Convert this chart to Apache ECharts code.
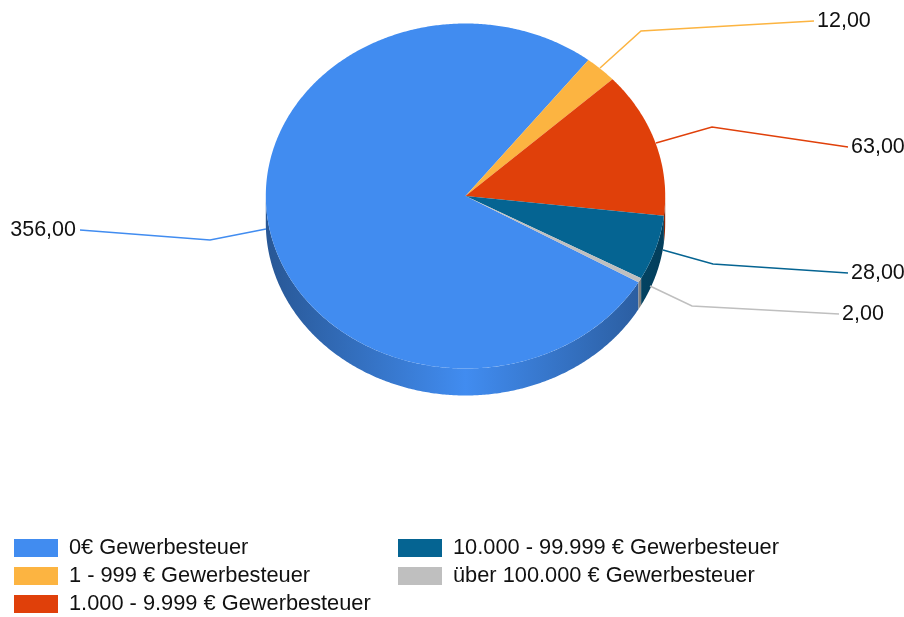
<!DOCTYPE html>
<html>
<head>
<meta charset="utf-8">
<title>Gewerbesteuer</title>
<style>
  html, body { margin: 0; padding: 0; background: #fff; }
  #chart { width: 904px; height: 617px; }
</style>
<script src="https://cdn.jsdelivr.net/npm/echarts@6/dist/echarts.min.js"></script>
</head>
<body>
<div id="chart"></div>
<script>
const categories = ['0€ Gewerbesteuer', '1 - 999 € Gewerbesteuer', '1.000 - 9.999 € Gewerbesteuer', '10.000 - 99.999 € Gewerbesteuer', 'über 100.000 € Gewerbesteuer']
const values = [356, 12, 63, 28, 2]
const colors = ['#418cf0', '#fcb441', '#e0400a', '#056492', '#bfbfbf']

// leader line layout: elbow, end of line, label side
const leaders = [
  { start: [266, 229], elbow: [210, 240], end: [80, 230], align: 'right' },
  { start: [600, 68], elbow: [641, 31], end: [814, 21], align: 'left' },
  { start: [656, 143], elbow: [712, 127], end: [848, 147], align: 'left' },
  { start: [663, 250], elbow: [713, 264], end: [848, 273], align: 'left' },
  { start: [650, 286], elbow: [692, 306], end: [839, 314], align: 'left' }
]

const pie = { cx: 465.5, cy: 196, rx: 199.7, ry: 172.5, depth: 27, startDeg: 120 }
const total = values.reduce((a, b) => a + b, 0)
const fontFamily = '"Liberation Sans", Arial, sans-serif'

// angle in degrees clockwise from 12 o'clock
const edgePoint = (deg, dy = 0) => {
  const a = deg * Math.PI / 180
  return [pie.cx + pie.rx * Math.sin(a), pie.cy - pie.ry * Math.cos(a) + dy]
}

const arcPoints = (from, to, dy = 0) => {
  const pts = []
  const steps = Math.max(2, Math.ceil(Math.abs(to - from) * 2))
  for (let i = 0; i <= steps; i++) pts.push(edgePoint(from + (to - from) * i / steps, dy))
  return pts
}

const sliceRange = index => {
  const before = values.slice(0, index).reduce((a, b) => a + b, 0)
  const from = pie.startDeg + before / total * 360
  return [from, from + values[index] / total * 360]
}

const shade = (hex, factor) => {
  const n = parseInt(hex.slice(1), 16)
  const rgb = [n >> 16, (n >> 8) & 255, n & 255].map(c => Math.round(c * factor))
  return `rgb(${rgb.join(',')})`
}

const wallGradient = color => {
  const dark = shade(color, 0.62)
  return new echarts.graphic.LinearGradient(pie.cx - pie.rx, 0, pie.cx + pie.rx, 0, [
    { offset: 0, color: dark },
    { offset: 0.5, color: color },
    { offset: 1, color: dark }
  ], true)
}

const renderSlice = index => (params, api) => {
  const [from, to] = sliceRange(index)
  const color = colors[index]
  const children = []

  // side wall only where the slice faces the viewer (90..270 clockwise from top)
  ;[0, 360].forEach(turn => {
    const wallFrom = Math.max(from - turn, 90)
    const wallTo = Math.min(to - turn, 270)
    if (wallTo <= wallFrom) return
    const top = arcPoints(wallFrom, wallTo)
    const bottom = arcPoints(wallTo, wallFrom, pie.depth)
    children.push({
      type: 'polygon',
      z2: 1,
      shape: { points: top.concat(bottom) },
      style: { fill: wallGradient(color) }
    })
  })

  children.push({
    type: 'polygon',
    z2: 5,
    shape: { points: [[pie.cx, pie.cy]].concat(arcPoints(from, to)) },
    style: { fill: color }
  })

  const leader = leaders[index]
  children.push({
    type: 'polyline',
    z2: 3,
    shape: { points: [leader.start, leader.elbow, leader.end] },
    style: { stroke: color, lineWidth: 1.5, fill: null }
  })
  children.push({
    type: 'text',
    z2: 6,
    style: {
      x: leader.end[0] + (leader.align === 'right' ? -4 : 3),
      y: leader.end[1],
      text: values[index].toFixed(2).replace('.', ','),
      fill: '#111',
      font: '21.5px ' + fontFamily,
      align: leader.align,
      verticalAlign: 'middle'
    }
  })
  return { type: 'group', children }
}

const legendBase = {
  orient: 'vertical',
  top: 537,
  height: 80,
  padding: 0,
  itemWidth: 44,
  itemHeight: 18,
  itemGap: 6,
  icon: 'rect',
  selectedMode: false,
  textStyle: { fontSize: 21.8, lineHeight: 18, color: '#111', fontFamily: fontFamily, padding: [0, 0, 0, 6] }
}

const chart = echarts.init(document.getElementById('chart'))
chart.setOption({
  animation: false,
  backgroundColor: '#fff',
  legend: [
    Object.assign({}, legendBase, { left: 14, data: categories.slice(0, 3) }),
    Object.assign({}, legendBase, { left: 398, data: categories.slice(3) })
  ],
  series: categories.map((name, i) => ({
    type: 'custom',
    name: name,
    coordinateSystem: 'none',
    itemStyle: { color: colors[i] },
    data: [values[i]],
    silent: true,
    renderItem: renderSlice(i)
  }))
})
</script>
</body>
</html>
